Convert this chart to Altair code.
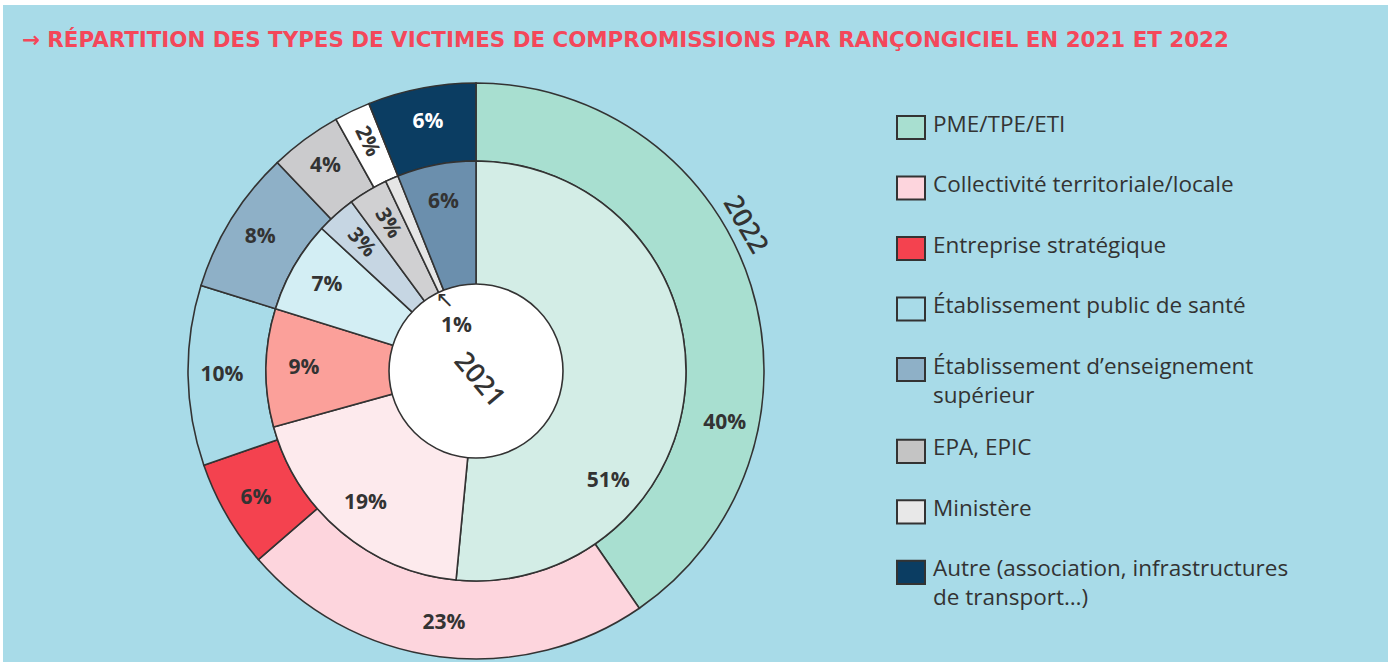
import altair as alt
import pandas as pd

# ---------------- data ----------------
categories = [
    "PME/TPE/ETI",
    "Collectivité territoriale/locale",
    "Entreprise stratégique",
    "Établissement public de santé",
    "Établissement d’enseignement supérieur",
    "EPA, EPIC",
    "Ministère",
    "Autre (association, infrastructures de transport…)",
]
legend_labels = [
    "PME/TPE/ETI",
    "Collectivité territoriale/locale",
    "Entreprise stratégique",
    "Établissement public de santé",
    "Établissement d’enseignement\nsupérieur",
    "EPA, EPIC",
    "Ministère",
    "Autre (association, infrastructures\nde transport…)",
]
values_2022 = [40, 23, 6, 10, 8, 4, 2, 6]
values_2021 = [51, 19, 9, 7, 3, 3, 1, 6]

colors_2022 = ["#a8dfd0", "#fdd5dd", "#f4424f", "#a8dbe8", "#8eb0c7", "#cbcbcd", "#ffffff", "#0b3d62"]
colors_2021 = ["#d3ede6", "#fdeaed", "#fba09a", "#d3eef4", "#c6d6e3", "#d0d0d2", "#e6e6e6", "#6b8fad"]
legend_colors = ["#a8dfd0", "#fdd5dd", "#f4424f", "#a8dbe8", "#8eb0c7", "#c4c4c4", "#e8e8e8", "#0b3d62"]

title_text = "→ RÉPARTITION DES TYPES DE VICTIMES DE COMPROMISSIONS PAR RANÇONGICIEL EN 2021 ET 2022"

# ---------------- style ----------------
BG = "#a8dbe8"
INK = "#333333"
FONT = "Open Sans"
CX, CY = 473, 366
R_HOLE, R_MID, R_OUT = 87, 210, 288


def ring_frame(values):
    total = sum(values)
    rows = []
    start = 0
    for i, (c, v) in enumerate(zip(categories, values)):
        frac = 0.7 if i == 0 else 0.5
        mid = start + frac * v
        deg = mid / total * 360
        rot = (deg + 90) % 360 if v <= 3 else 0
        rows.append(dict(idx=i, cat=c, value=v, start=start, end=start + v,
                         mid=mid, label=f"{v}%", rot=rot))
        start += v
    return pd.DataFrame(rows), total


df22, tot22 = ring_frame(values_2022)
df21, tot21 = ring_frame(values_2021)


def ring(df, total, colors, r_in, r_out):
    sc = alt.Scale(domain=[0, total])
    return alt.Chart(df).mark_arc(
        innerRadius=r_in, outerRadius=r_out, stroke=INK, strokeWidth=1.6
    ).encode(
        theta=alt.Theta("start:Q", scale=sc),
        theta2="end:Q",
        fill=alt.Fill("cat:N", scale=alt.Scale(domain=categories, range=colors), legend=None),
        x=alt.value(CX), y=alt.value(CY),
    )


def ring_labels(df, total, radius, white_cat=None):
    sc = alt.Scale(domain=[0, total])
    color = alt.value(INK)
    if white_cat is not None:
        color = alt.condition(alt.datum.cat == white_cat, alt.value("white"), alt.value(INK))
    return alt.Chart(df).transform_filter(alt.datum.value > 1).mark_text(
        radius=radius, fontSize=21, fontWeight="bold", font=FONT
    ).encode(
        theta=alt.Theta("mid:Q", scale=sc),
        text="label:N",
        angle=alt.Angle("rot:Q", scale=None),
        color=color,
        x=alt.value(CX), y=alt.value(CY),
    )


outer = ring(df22, tot22, colors_2022, R_MID, R_OUT)
inner = ring(df21, tot21, colors_2021, R_HOLE - 5, R_MID)

hole = alt.Chart(pd.DataFrame({"y": ["2021"]})).mark_point(
    shape="circle", size=(2 * R_HOLE) ** 2, filled=True, fill="white", opacity=1,
    stroke=INK, strokeWidth=1.6
).encode(x=alt.value(CX), y=alt.value(CY))

outer_lbl = ring_labels(df22, tot22, 254, white_cat=categories[-1])
inner_lbl = ring_labels(df21, tot21, 172)

sc21 = alt.Scale(domain=[0, tot21])
small = df21[df21["value"] <= 1]
callout = alt.Chart(small).mark_text(
    radius=49, fontSize=21, fontWeight="bold", font=FONT, color=INK
).encode(theta=alt.Theta("mid:Q", scale=sc21), text="label:N",
         x=alt.value(CX), y=alt.value(CY))
arrow = alt.Chart(small).mark_text(
    radius=78, fontSize=22, font="DejaVu Sans", color=INK, text="↖"
).encode(theta=alt.Theta("mid:Q", scale=sc21), x=alt.value(CX), y=alt.value(CY))

years = pd.DataFrame({"year": ["2022", "2021"]})
y2022 = alt.Chart(years[years.year == "2022"]).mark_text(
    fontSize=27, fontWeight=600, font=FONT, color=INK, angle=60
).encode(text="year:N", x=alt.value(742), y=alt.value(220))
y2021 = alt.Chart(years[years.year == "2021"]).mark_text(
    fontSize=27, fontWeight=600, font=FONT, color=INK, angle=50
).encode(text="year:N", x=alt.value(476), y=alt.value(375))

# legend
extra = [lbl.count("\n") for lbl in legend_labels]
ly = []
acc = 0
for i, e in enumerate(extra):
    ly.append(i + acc * 0.355)
    acc += e
leg = pd.DataFrame({"cat": categories, "label": [l.split("\n") for l in legend_labels],
                    "color": legend_colors, "ly": ly})
yscale = alt.Scale(domain=[0, 1], range=[122.5, 183])
leg_box = alt.Chart(leg).mark_point(
    shape="M-1,-0.83L1,-0.83L1,0.83L-1,0.83Z", size=784, filled=True, opacity=1,
    stroke=INK, strokeWidth=2
).encode(x=alt.value(908), y=alt.Y("ly:Q", scale=yscale, axis=None),
         fill=alt.Fill("color:N", scale=None))
leg_txt = alt.Chart(leg).mark_text(
    align="left", baseline="top", dy=-14, fontSize=22.5, font=FONT, color=INK, lineHeight=29
).encode(x=alt.value(930), y=alt.Y("ly:Q", scale=yscale, axis=None), text="label")

title = alt.Chart(pd.DataFrame({"t": [title_text]})).mark_text(
    align="left", baseline="middle", fontSize=21.4, fontWeight="bold", font="DejaVu Sans",
    color="#f4475a"
).encode(x=alt.value(19), y=alt.value(36), text="t:N")

chart = alt.layer(
    outer, inner, hole, outer_lbl, inner_lbl, callout, arrow, y2022, y2021,
    leg_box, leg_txt, title
).resolve_scale(theta="independent", fill="independent").properties(
    width=1385, height=657, autosize="none",
    padding={"top": 5, "left": 3, "right": 0, "bottom": 0},
    background="white",
).configure_view(fill=BG, strokeWidth=0)

chart.save("out.html", embed_options={"renderer": "svg", "actions": False})
